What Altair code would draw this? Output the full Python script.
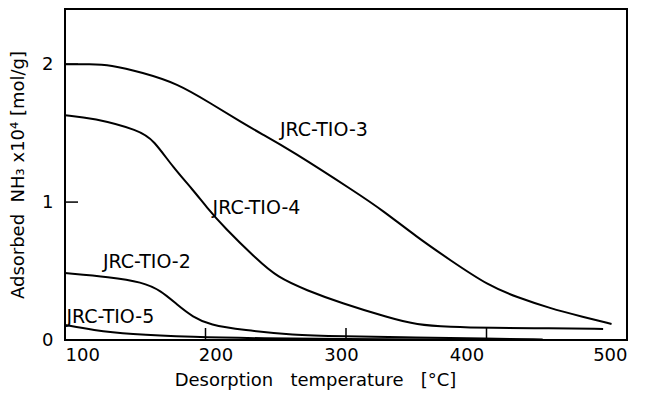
import altair as alt
import pandas as pd

# ---- data ----
tio3_x = [100, 118, 132, 155, 180, 203, 227, 239, 260, 308, 326, 350, 374, 402, 422, 445, 469, 489]
tio3_y = [2.0, 2.0, 1.995, 1.94, 1.86, 1.72, 1.57, 1.50, 1.38, 1.065, 0.94, 0.75, 0.58, 0.39, 0.31, 0.23, 0.167, 0.116]

tio4_x = [100, 120, 153, 163, 177, 191, 201, 213, 237, 251, 272, 296, 331, 350, 374, 402, 445, 483]
tio4_y = [1.63, 1.61, 1.52, 1.45, 1.25, 1.09, 0.96, 0.82, 0.58, 0.456, 0.36, 0.27, 0.16, 0.11, 0.094, 0.087, 0.086, 0.08]

tio2_x = [100, 132, 155, 168, 180, 191, 203, 227, 262, 296, 350, 400, 440]
tio2_y = [0.485, 0.457, 0.42, 0.36, 0.254, 0.167, 0.109, 0.072, 0.036, 0.028, 0.018, 0.01, 0.004]

tio5_x = [100, 120, 145, 191, 240, 300, 360, 420]
tio5_y = [0.109, 0.072, 0.043, 0.022, 0.012, 0.006, 0.003, 0.001]

series = {"JRC-TIO-3": (tio3_x, tio3_y), "JRC-TIO-4": (tio4_x, tio4_y),
          "JRC-TIO-2": (tio2_x, tio2_y), "JRC-TIO-5": (tio5_x, tio5_y)}

label_names = ["JRC-TIO-3", "JRC-TIO-4", "JRC-TIO-2", "JRC-TIO-5"]
label_x = [253, 205, 127, 101]
label_y = [1.52, 0.96, 0.565, 0.17]

x_ticks = [100, 200, 300, 400, 500]
y_ticks = [0, 1, 2]
x_inner_ticks = [200, 300, 400]
y_inner_ticks = [1, 2]

rows = []
for name, (xs, ys) in series.items():
    for i, (a, b) in enumerate(zip(xs, ys)):
        rows.append({"series": name, "T": a, "NH3": b, "order": i})
df = pd.DataFrame(rows)
labels = pd.DataFrame({"name": label_names, "T": label_x, "NH3": label_y})
xt = pd.DataFrame({"T": x_inner_ticks})
yt = pd.DataFrame({"NH3": y_inner_ticks})

FONT = "DejaVu Sans"
W, H = 562, 331
NB = "\u00a0"

xscale = alt.Scale(domain=[100, 500], nice=False, zero=False)
yscale = alt.Scale(domain=[0, 2.4], nice=False)

lines = alt.Chart(df).mark_line(color="black", strokeWidth=2, interpolate="basis").encode(
    x=alt.X("T:Q", scale=xscale,
            axis=alt.Axis(values=x_ticks, format="d",
                          title=f"Desorption{NB}{NB}{NB}temperature{NB}{NB}{NB}[°C]",
                          grid=False, ticks=False, domain=False, labelPadding=6,
                          labelFontSize=18, labelColor="black", labelFont=FONT,
                          labelOffset=alt.ExprRef(expr="datum.value == 200 ? 10 : datum.value == 300 ? -5 : datum.value == 400 ? -20 : 0"),
                          titleFont=FONT, titleFontSize=18, titleFontWeight="normal",
                          titleColor="black", titlePadding=7, titleX=250, labelFlush=True)),
    y=alt.Y("NH3:Q", scale=yscale,
            axis=alt.Axis(values=y_ticks, format="d",
                          title=f"Adsorbed{NB}{NB}NH₃{NB}x10⁴{NB}[mol/g]",
                          grid=False, ticks=False, domain=False, labelPadding=12,
                          labelFontSize=18, labelColor="black", labelFont=FONT,
                          titleFont=FONT, titleFontSize=18, titleFontWeight="normal",
                          titleColor="black", titlePadding=14, labelFlush=False)),
    detail="series:N",
    order="order:Q",
)

text = alt.Chart(labels).mark_text(align="left", baseline="middle", fontSize=19,
                                   font=FONT, color="black").encode(
    x=alt.X("T:Q", scale=xscale), y=alt.Y("NH3:Q", scale=yscale), text="name:N")

xtick_marks = alt.Chart(xt).mark_rule(color="black", strokeWidth=1.5).encode(
    x=alt.X("T:Q", scale=xscale), y=alt.value(H), y2=alt.value(H - 12))
ytick_marks = alt.Chart(yt).mark_rule(color="black", strokeWidth=1.5).encode(
    y=alt.Y("NH3:Q", scale=yscale), x=alt.value(0), x2=alt.value(13))

chart = alt.layer(lines, text, xtick_marks, ytick_marks).properties(
    width=W, height=H,
    autosize=alt.AutoSizeParams(type="none"),
    padding={"left": 65, "top": 9, "right": 19, "bottom": 62},
    background="white",
).configure_view(stroke="black", strokeWidth=2)

chart.save("out.html", embed_options={"renderer": "svg", "actions": False})
